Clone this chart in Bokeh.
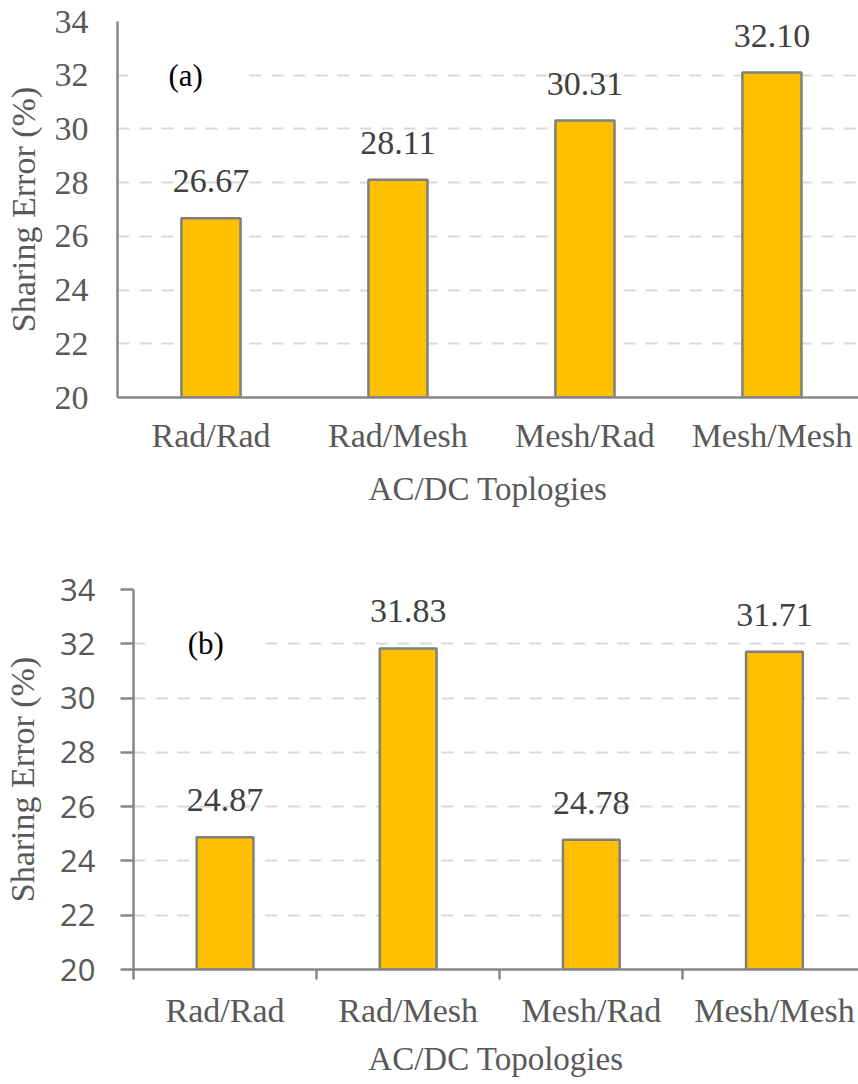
from bokeh.plotting import figure
from bokeh.models import Range1d, FixedTicker, Label, ColumnDataSource
from bokeh.embed import file_html
from bokeh.resources import INLINE
from bokeh.core.properties import value

# ---- data ----
categories = ["Rad/Rad", "Rad/Mesh", "Mesh/Rad", "Mesh/Mesh"]
values_a = [26.67, 28.11, 30.31, 32.10]
values_b = [24.87, 31.83, 24.78, 31.71]
y_ticks = [20, 22, 24, 26, 28, 30, 32, 34]
x_title_a = "AC/DC Toplogies"
x_title_b = "AC/DC Topologies"
y_title = "Sharing Error (%)"
panel_a = "(a)"
panel_b = "(b)"

# ---- style ----
SERIF = "Liberation Serif"
SANS = "Open Sans"
BAR = "#FFC000"
EDGE = "#7F7F7F"
AXIS = "#868686"
GRID = "#D9D9D9"
TICKTXT = "#595959"
LBLTXT = "#404040"


def make_panel(vals, x_title, panel_text, height, border_top, border_bottom,
               border_left, x_end, bottom_ticks, ytick_font, ytick_size,
               ytick_out, ytick_standoff, ylab_standoff, xtick_standoff,
               xlab_standoff, panel_x, bar_w):
    n = len(categories)
    xs = [i + 0.5 for i in range(n)]
    src = ColumnDataSource(dict(x=xs, top=vals, cat=categories,
                                lab=[f"{v:.2f}" for v in vals]))
    p = figure(width=858, height=height, output_backend="svg",
               toolbar_location=None, x_range=Range1d(0, x_end),
               y_range=Range1d(y_ticks[0], y_ticks[-1]),
               min_border_left=border_left, min_border_right=0,
               min_border_top=border_top, min_border_bottom=border_bottom)
    p.outline_line_color = None
    p.background_fill_color = "white"

    p.vbar(x="x", top="top", bottom=y_ticks[0], width=bar_w, source=src,
           fill_color=BAR, line_color=EDGE, line_width=2.5)
    p.text(x="x", y="top", text="lab", source=src, text_align="center",
           text_baseline="middle", y_offset=-37, text_font=value(SERIF),
           text_font_size="34px", text_color=LBLTXT)

    # grid
    p.xgrid.visible = False
    p.ygrid.ticker = FixedTicker(ticks=y_ticks)
    p.ygrid.grid_line_color = GRID
    p.ygrid.grid_line_dash = "12 10"
    p.ygrid.grid_line_width = 2

    # x axis
    xa = p.xaxis[0]
    xa.ticker = FixedTicker(ticks=xs, minor_ticks=list(range(n + 1)))
    xa.major_label_overrides = {x: c for x, c in zip(xs, categories)}
    xa.major_tick_out = 0
    xa.major_tick_in = 0
    xa.minor_tick_in = 0
    xa.minor_tick_out = 10 if bottom_ticks else 0
    xa.minor_tick_line_color = AXIS if bottom_ticks else None
    xa.minor_tick_line_width = 2.5
    xa.axis_line_color = AXIS
    xa.axis_line_width = 2.5
    xa.major_label_text_font = SERIF
    xa.major_label_text_font_size = "34px"
    xa.major_label_text_color = TICKTXT
    xa.major_label_standoff = xtick_standoff
    xa.axis_label = x_title
    xa.axis_label_text_font = SERIF
    xa.axis_label_text_font_size = "33px"
    xa.axis_label_text_font_style = "normal"
    xa.axis_label_text_color = TICKTXT
    xa.axis_label_standoff = xlab_standoff

    # y axis
    ya = p.yaxis[0]
    ya.ticker = FixedTicker(ticks=y_ticks)
    ya.minor_tick_line_color = None
    ya.major_tick_in = 0
    ya.major_tick_out = ytick_out
    ya.major_tick_line_color = AXIS if ytick_out else None
    ya.major_tick_line_width = 2.5
    ya.axis_line_color = AXIS
    ya.axis_line_width = 2.5
    ya.major_label_text_font = ytick_font
    ya.major_label_text_font_size = ytick_size
    ya.major_label_text_color = TICKTXT
    ya.major_label_standoff = ytick_standoff
    ya.axis_label = y_title
    ya.axis_label_text_font = SERIF
    ya.axis_label_text_font_size = "34px"
    ya.axis_label_text_font_style = "normal"
    ya.axis_label_text_color = TICKTXT
    ya.axis_label_standoff = ylab_standoff

    lab = Label(x=panel_x, y=32, text=panel_text, text_align="center",
                text_baseline="middle", text_font=SERIF, text_font_size="31px",
                text_color="black", background_fill_color="white",
                padding=dict(left=40, right=42, top=2, bottom=2))
    p.add_layout(lab)
    return p


p1 = make_panel(values_a, x_title_a, panel_a, height=545, border_top=21,
                border_bottom=148, border_left=117, x_end=3.963,
                bottom_ticks=False, ytick_font=SERIF, ytick_size="34px",
                ytick_out=0, ytick_standoff=29, ylab_standoff=10,
                xtick_standoff=19, xlab_standoff=14,
                panel_x=0.37, bar_w=0.316)
p2 = make_panel(values_b, x_title_b, panel_b, height=539, border_top=44,
                border_bottom=115, border_left=133, x_end=3.959,
                bottom_ticks=True, ytick_font=SANS, ytick_size="31px",
                ytick_out=13, ytick_standoff=25, ylab_standoff=16,
                xtick_standoff=12, xlab_standoff=9,
                panel_x=0.40, bar_w=0.31)

# two separate roots, stacked, so that their frames are not aligned
open("out.html", "w").write(file_html([p1, p2], INLINE))
